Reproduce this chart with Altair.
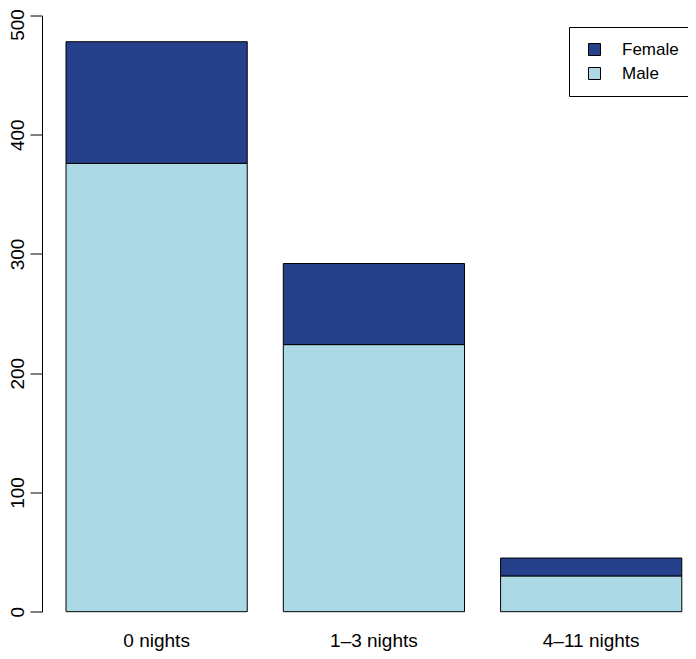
import altair as alt
import pandas as pd

categories = ["0 nights", "1–3 nights", "4–11 nights"]
male = [376, 224, 30]
female = [102, 68, 15]
sexes = ["Female", "Male"]
colors = ["#26408B", "#ADD8E6"]
y_ticks = [0, 100, 200, 300, 400, 500]

rows = []
for c, m, f in zip(categories, male, female):
    rows.append({"nights": c, "sex": "Male", "count": m, "rank": 0})
    rows.append({"nights": c, "sex": "Female", "count": f, "rank": 1})
df = pd.DataFrame(rows)

FONT = "Liberation Sans"

chart = alt.Chart(df).mark_bar(stroke="black", strokeWidth=1, opacity=1).encode(
    x=alt.X(
        "nights:N",
        sort=categories,
        scale=alt.Scale(paddingInner=0.166, paddingOuter=0.0695, align=0.795),
        axis=alt.Axis(
            title=None, domain=False, ticks=False, tickSize=0, labelAngle=0,
            labelFontSize=19, labelFont=FONT, labelColor="black",
            labelBaseline="alphabetic", labelPadding=34.3,
        ),
    ),
    y=alt.Y(
        "count:Q",
        stack="zero",
        scale=alt.Scale(domain=[0, 500], nice=False, zero=True),
        axis=alt.Axis(
            title=None, values=y_ticks, grid=False, domainColor="black",
            domainWidth=1, tickColor="black", tickWidth=1, tickSize=12,
            labelAngle=270, labelAlign="center", labelBaseline="alphabetic",
            labelPadding=7, labelFontSize=19, labelFont=FONT,
            labelColor="black", labelFlush=False, labelOverlap=False,
            labelOffset={"condition": {"test": "datum.value === 500", "value": 9}, "value": 0},
        ),
    ),
    color=alt.Color(
        "sex:N",
        scale=alt.Scale(domain=sexes, range=colors),
        legend=alt.Legend(
            title=None, orient="none", legendX=527, legendY=11.5,
            strokeColor="black", padding=14,
            symbolType="square", symbolSize=144, symbolOffset=3,
            symbolStrokeColor="black", symbolStrokeWidth=1,
            labelFontSize=17, labelFont=FONT, labelColor="black",
            labelOffset=19, rowPadding=6,
        ),
    ),
    order=alt.Order("rank:Q", sort="ascending"),
).properties(
    width=646,
    height=596.2,
    autosize=alt.AutoSizeParams(type="none"),
    padding={"left": 34, "top": 7.5, "right": 0, "bottom": 39.3},
).configure_view(strokeWidth=0)

chart.save("out.html", embed_options={"renderer": "svg", "actions": False})
